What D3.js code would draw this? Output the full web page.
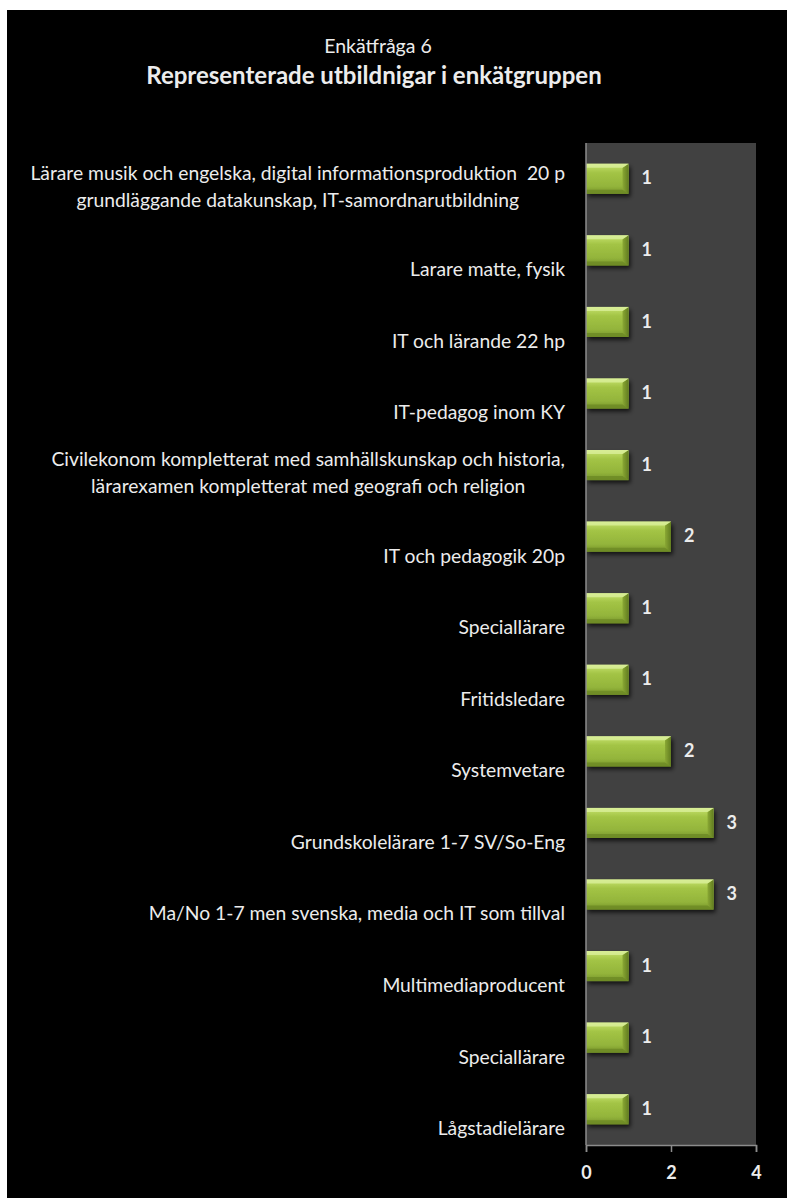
<!DOCTYPE html>
<html>
<head>
<meta charset="utf-8">
<script src="https://cdn.jsdelivr.net/npm/d3@7"></script>
<style>
  html, body { margin: 0; padding: 0; background: #ffffff; }
  svg { display: block; }
  text { font-family: Lato, "Open Sans", sans-serif; fill: #ececec; white-space: pre; }
</style>
</head>
<body>
<svg id="chart" width="787" height="1198"></svg>
<script>
// Survey question 6: represented educations in the survey group
const titleSmall = "Enkätfråga 6";
const titleMain = "Representerade utbildnigar i enkätgruppen";

const categories = [
  ["Lärare musik och engelska, digital informationsproduktion  20 p", "grundläggande datakunskap, IT-samordnarutbildning"],
  ["Larare matte, fysik"],
  ["IT och lärande 22 hp"],
  ["IT-pedagog inom KY"],
  ["Civilekonom kompletterat med samhällskunskap och historia,", "lärarexamen kompletterat med geografi och religion"],
  ["IT och pedagogik 20p"],
  ["Speciallärare"],
  ["Fritidsledare"],
  ["Systemvetare"],
  ["Grundskolelärare 1-7 SV/So-Eng"],
  ["Ma/No 1-7 men svenska, media och IT som tillval"],
  ["Multimediaproducent"],
  ["Speciallärare"],
  ["Lågstadielärare"]
];
const counts = [1, 1, 1, 1, 1, 2, 1, 1, 2, 3, 3, 1, 1, 1];
const xTicks = [0, 2, 4];

const svg = d3.select("#chart");

// black chart area
svg.append("rect").attr("x", 7).attr("y", 10).attr("width", 780).attr("height", 1188).attr("fill", "#000");

const plot = { left: 586, right: 756, top: 143, bottom: 1145 };

const x = d3.scaleLinear().domain([0, 4]).range([plot.left, plot.right]);
const y = d3.scaleBand().domain(d3.range(categories.length)).range([plot.top, plot.bottom]).paddingInner(0.58).paddingOuter(0.29);

const defs = svg.append("defs");
const grad = defs.append("linearGradient").attr("id", "barGrad").attr("x1", 0).attr("y1", 0).attr("x2", 0).attr("y2", 1);
[[0, "#d2ea8a"], [0.12, "#b8d65e"], [0.3, "#a3c445"], [0.75, "#93b43b"], [1, "#75932a"]]
  .forEach(([o, c]) => grad.append("stop").attr("offset", o).attr("stop-color", c));
const rgrad = defs.append("linearGradient").attr("id", "edgeGrad").attr("x1", 0).attr("y1", 0).attr("x2", 1).attr("y2", 0);
rgrad.append("stop").attr("offset", 0).attr("stop-color", "#8aa834");
rgrad.append("stop").attr("offset", 1).attr("stop-color", "#627d20");
const shadow = defs.append("filter").attr("id", "shadow").attr("x", "-20%").attr("y", "-30%").attr("width", "150%").attr("height", "190%");
shadow.append("feDropShadow").attr("dx", 2).attr("dy", 3).attr("stdDeviation", 2.2).attr("flood-color", "#000").attr("flood-opacity", 0.7);

// plot background
svg.append("rect")
  .attr("x", plot.left).attr("y", plot.top)
  .attr("width", plot.right - plot.left).attr("height", plot.bottom - plot.top)
  .attr("fill", "#414141");

// bars
const bars = svg.append("g").selectAll("g.bar").data(counts).join("g").attr("class", "bar");
bars.append("rect")
  .attr("x", x(0)).attr("y", (d, i) => y(i))
  .attr("width", d => x(d) - x(0)).attr("height", y.bandwidth())
  .attr("fill", "url(#barGrad)")
  .attr("filter", "url(#shadow)");
// right bevel
bars.append("path")
  .attr("d", (d, i) => {
    const x1 = x(d), y0 = y(i), h = y.bandwidth();
    return `M${x1 - 6},${y0 + 4} L${x1},${y0} L${x1},${y0 + h} L${x1 - 6},${y0 + h - 4} Z`;
  })
  .attr("fill", "url(#edgeGrad)");
// top highlight bevel
bars.append("path")
  .attr("d", (d, i) => {
    const x1 = x(d), y0 = y(i);
    return `M${x(0)},${y0} L${x1},${y0} L${x1 - 6},${y0 + 4} L${x(0)},${y0 + 4} Z`;
  })
  .attr("fill", "#d9ef9a").attr("opacity", 0.8);
// bottom bevel
bars.append("path")
  .attr("d", (d, i) => {
    const x1 = x(d), y0 = y(i) + y.bandwidth();
    return `M${x(0)},${y0} L${x1},${y0} L${x1 - 6},${y0 - 4} L${x(0)},${y0 - 4} Z`;
  })
  .attr("fill", "#6d8a24").attr("opacity", 0.8);

// value labels
svg.append("g").selectAll("text").data(counts).join("text")
  .attr("x", d => x(d) + 13)
  .attr("y", (d, i) => y(i) + y.bandwidth() / 2 + 1)
  .attr("dominant-baseline", "middle")
  .attr("font-size", 18).attr("font-weight", "bold")
  .text(d => d);

// axis lines
svg.append("line").attr("x1", plot.left).attr("x2", plot.left).attr("y1", plot.top).attr("y2", plot.bottom)
  .attr("stroke", "#8c8c8c").attr("stroke-width", 1.5);
const xAxis = svg.append("g").attr("transform", `translate(0,${plot.bottom})`)
  .call(d3.axisBottom(x).tickValues(xTicks).tickSize(7).tickPadding(14).tickFormat(d3.format("d")));
xAxis.select(".domain").attr("stroke", "#8c8c8c").attr("stroke-width", 1.5);
xAxis.selectAll(".tick line").attr("stroke", "#8c8c8c").attr("stroke-width", 1.5);
xAxis.selectAll(".tick text").attr("fill", "#ececec").attr("font-size", 18).attr("font-weight", "bold")
  .attr("font-family", "Lato, sans-serif");

// category labels, right-aligned block with centered lines
const labelRight = 565;
const labels = svg.append("g").selectAll("g").data(categories).join("g");
labels.each(function (lines, i) {
  const g = d3.select(this);
  const cy = y(i) + y.bandwidth() / 2;
  const ts = lines.map((t, k) => g.append("text")
    .attr("font-size", 19.3)
    .attr("dominant-baseline", "middle")
    .attr("text-anchor", "middle")
    .attr("y", lines.length === 1 ? cy + 21 : cy - 4 + k * 27)
    .text(t));
  const w = d3.max(ts, t => t.node().getComputedTextLength());
  ts.forEach(t => t.attr("x", labelRight - w / 2));
});

// titles
svg.append("text").attr("x", 378).attr("y", 48).attr("text-anchor", "middle")
  .attr("dominant-baseline", "middle").attr("font-size", 19.5).text(titleSmall);
svg.append("text").attr("x", 374).attr("y", 78).attr("text-anchor", "middle")
  .attr("dominant-baseline", "middle").attr("font-size", 24).attr("font-weight", "bold").text(titleMain);
</script>
</body>
</html>
